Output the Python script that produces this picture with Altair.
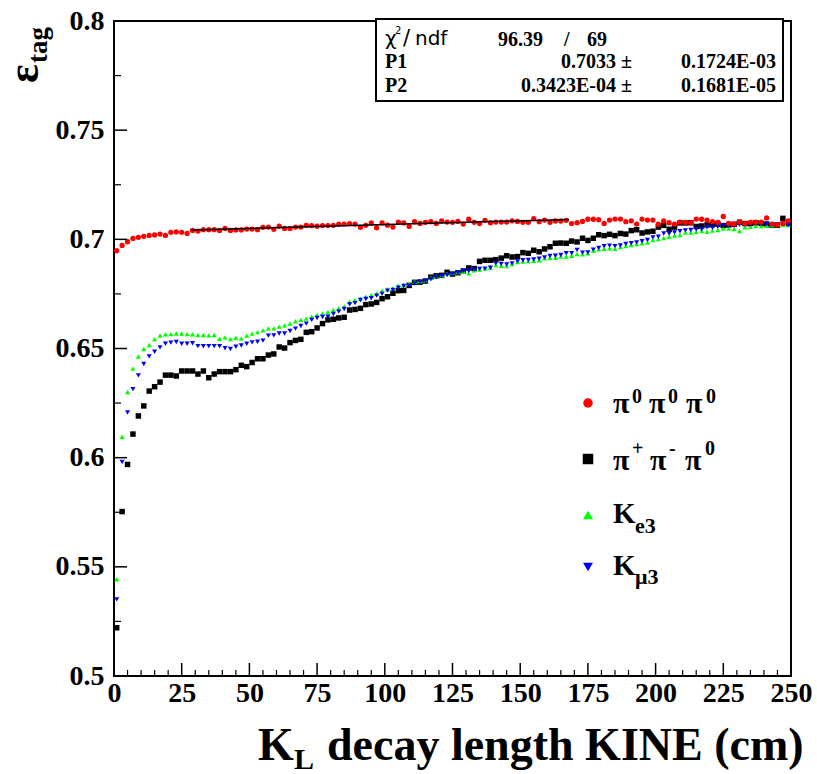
import altair as alt
import pandas as pd

# ---- data (2 cm bins, centres 1..249 cm) ----
x_centers = list(range(1, 250, 2))

red_a = [0.6948, 0.6972, 0.6989, 0.7004, 0.7009, 0.7014, 0.7018, 0.7020, 0.7024, 0.7018,
         0.7032, 0.7034, 0.7032, 0.7027, 0.7041, 0.7038, 0.7044, 0.7044, 0.7044, 0.7041,
         0.7050, 0.7041, 0.7043, 0.7043, 0.7047, 0.7047, 0.7044, 0.7055, 0.7056, 0.7046,
         0.7060, 0.7050, 0.7050, 0.7056, 0.7056, 0.7064, 0.7063, 0.7060, 0.7063, 0.7063,
         0.7064, 0.7069]
red_b = [0.7070, 0.7072, 0.7070, 0.7055, 0.7064, 0.7075, 0.7053, 0.7075, 0.7065, 0.7056,
         0.7079, 0.7075, 0.7059, 0.7081, 0.7073, 0.7078, 0.7081, 0.7073, 0.7084, 0.7079,
         0.7078, 0.7082, 0.7070, 0.7092, 0.7078, 0.7072, 0.7087, 0.7076, 0.7079, 0.7079,
         0.7079, 0.7085, 0.7082, 0.7078, 0.7078, 0.7095, 0.7081, 0.7088, 0.7078, 0.7084,
         0.7084, 0.7087, 0.7072, 0.7076, 0.7082, 0.7092, 0.7092, 0.7090, 0.7073, 0.7088,
         0.7093, 0.7093, 0.7081, 0.7085, 0.7070, 0.7093, 0.7088, 0.7088, 0.7069, 0.7084,
         0.7076, 0.7070, 0.7079, 0.7078, 0.7076, 0.7093, 0.7092, 0.7088, 0.7081, 0.7078,
         0.7105, 0.7073, 0.7070, 0.7079, 0.7073, 0.7078, 0.7079, 0.7079, 0.7098, 0.7070,
         0.7067, 0.7073, 0.7085]

black_a = [0.5221, 0.5753, 0.5969, 0.6108, 0.6191, 0.6237,
           0.6305, 0.6325, 0.6346, 0.6378, 0.6378, 0.6374, 0.6397, 0.6397, 0.6397, 0.6383,
           0.6397, 0.6366, 0.6383, 0.6394, 0.6394, 0.6394, 0.6403, 0.6423, 0.6417, 0.6436,
           0.6453, 0.6453, 0.6470, 0.6475, 0.6507, 0.6502, 0.6527, 0.6537, 0.6542, 0.6574,
           0.6577, 0.6594, 0.6614, 0.6631, 0.6634, 0.6640]
black_b = [0.6643, 0.6676, 0.6679, 0.6684, 0.6701, 0.6704, 0.6711, 0.6728, 0.6737, 0.6753,
           0.6765, 0.6766, 0.6789, 0.6803, 0.6804, 0.6809, 0.6827, 0.6833, 0.6835, 0.6849,
           0.6841, 0.6847, 0.6855, 0.6869, 0.6866, 0.6899, 0.6904, 0.6904, 0.6907, 0.6914,
           0.6925, 0.6919, 0.6921, 0.6939, 0.6936, 0.6950, 0.6943, 0.6956, 0.6966, 0.6982,
           0.6983, 0.6982, 0.6992, 0.6988, 0.7005, 0.6995, 0.7005, 0.7021, 0.7017, 0.7023,
           0.7017, 0.7027, 0.7024, 0.7040, 0.7044, 0.7029, 0.7034, 0.7037, 0.7056, 0.7064,
           0.7046, 0.7056, 0.7075, 0.7075, 0.7076, 0.7059, 0.7061, 0.7066, 0.7067, 0.7070,
           0.7063, 0.7066, 0.7069, 0.7078, 0.7072, 0.7072, 0.7076, 0.7073, 0.7070, 0.7064,
           0.7064, 0.7096, 0.7073]

green_a = [0.5443, 0.6096,
           0.6301, 0.6408, 0.6463, 0.6498, 0.6516, 0.6542, 0.6559, 0.6565, 0.6566, 0.6569,
           0.6569, 0.6566, 0.6565, 0.6562, 0.6562, 0.6560, 0.6562, 0.6545, 0.6551, 0.6543,
           0.6549, 0.6546, 0.6559, 0.6568, 0.6575, 0.6583, 0.6592, 0.6592, 0.6600, 0.6606,
           0.6614, 0.6625, 0.6631, 0.6637, 0.6646, 0.6654, 0.6660, 0.6667, 0.6676, 0.6684]
green_b = [0.6692, 0.6714, 0.6722, 0.6728, 0.6737, 0.6745, 0.6751, 0.6765, 0.6771, 0.6775,
           0.6788, 0.6791, 0.6798, 0.6806, 0.6809, 0.6812, 0.6824, 0.6832, 0.6835, 0.6843,
           0.6847, 0.6850, 0.6852, 0.6844, 0.6858, 0.6862, 0.6866, 0.6870, 0.6882, 0.6879,
           0.6878, 0.6887, 0.6896, 0.6898, 0.6901, 0.6902, 0.6904, 0.6913, 0.6916, 0.6916,
           0.6921, 0.6921, 0.6925, 0.6933, 0.6931, 0.6936, 0.6948, 0.6954, 0.6957, 0.6959,
           0.6957, 0.6965, 0.6969, 0.6974, 0.6979, 0.6982, 0.6985, 0.6997, 0.7001, 0.7006,
           0.7012, 0.7017, 0.7020, 0.7031, 0.7031, 0.7035, 0.7038, 0.7035, 0.7040, 0.7043,
           0.7049, 0.7050, 0.7047, 0.7038, 0.7055, 0.7058, 0.7061, 0.7061, 0.7062, 0.7064,
           0.7065, 0.7067, 0.7065]

blue_a = [0.5351, 0.5980,
          0.6207, 0.6314, 0.6377, 0.6429, 0.6464, 0.6485, 0.6505, 0.6522, 0.6527, 0.6530,
          0.6522, 0.6522, 0.6524, 0.6511, 0.6510, 0.6511, 0.6511, 0.6510, 0.6501, 0.6498,
          0.6508, 0.6514, 0.6522, 0.6528, 0.6531, 0.6536, 0.6559, 0.6560, 0.6569, 0.6569,
          0.6580, 0.6591, 0.6603, 0.6614, 0.6631, 0.6640, 0.6644, 0.6646, 0.6658, 0.6669]
blue_b = [0.6681, 0.6702, 0.6708, 0.6722, 0.6727, 0.6730, 0.6742, 0.6750, 0.6765, 0.6768,
          0.6779, 0.6786, 0.6788, 0.6798, 0.6806, 0.6809, 0.6817, 0.6826, 0.6832, 0.6837,
          0.6841, 0.6847, 0.6855, 0.6855, 0.6862, 0.6864, 0.6866, 0.6870, 0.6890, 0.6887,
          0.6885, 0.6890, 0.6899, 0.6904, 0.6905, 0.6908, 0.6911, 0.6917, 0.6924, 0.6925,
          0.6928, 0.6936, 0.6936, 0.6951, 0.6939, 0.6940, 0.6953, 0.6960, 0.6969, 0.6971,
          0.6969, 0.6972, 0.6979, 0.6982, 0.6986, 0.6991, 0.6997, 0.7009, 0.7012, 0.7027,
          0.7027, 0.7032, 0.7037, 0.7041, 0.7043, 0.7046, 0.7046, 0.7055, 0.7053, 0.7058,
          0.7064, 0.7062, 0.7061, 0.7067, 0.7067, 0.7069, 0.7070, 0.7069, 0.7070, 0.7067,
          0.7069, 0.7070, 0.7065]

fit_x = [28.7, 168.0]
fit_y = [0.7043, 0.7091]

x_major = [0, 25, 50, 75, 100, 125, 150, 175, 200, 225, 250]
x_minor = [5, 10, 15, 20, 30, 35, 40, 45, 55, 60, 65, 70, 80, 85, 90, 95, 105, 110, 115, 120,
           130, 135, 140, 145, 155, 160, 165, 170, 180, 185, 190, 195, 205, 210, 215, 220,
           230, 235, 240, 245]
y_major = [0.5, 0.55, 0.6, 0.65, 0.7, 0.75, 0.8]
y_minor = [0.525, 0.575, 0.625, 0.675, 0.725, 0.775]

W, H = 677, 655
SERIF = "Liberation Serif"
SANS = "DejaVu Sans"

xscale = alt.Scale(domain=[0, 250], nice=False, zero=False)
yscale = alt.Scale(domain=[0.5, 0.8], nice=False, zero=False)
xaxis = alt.Axis(values=x_major, title=None, domain=False, ticks=False, tickSize=0, grid=False,
                 labelFont=SERIF, labelFontWeight="bold", labelFontSize=28, labelColor="black",
                 labelPadding=3, labelFlush=False, labelOverlap=False, format="d")
yaxis = alt.Axis(values=y_major, title=None, domain=False, ticks=False, tickSize=0, grid=False,
                 labelFont=SERIF, labelFontWeight="bold", labelFontSize=28, labelColor="black",
                 labelPadding=10, labelFlush=False, labelOverlap=False, format=".2~f")


def X(field="x"):
    return alt.X(f"{field}:Q", scale=xscale, axis=xaxis)


def Y(field="y"):
    return alt.Y(f"{field}:Q", scale=yscale, axis=yaxis)


def points(vals, shape, color, size):
    df = pd.DataFrame({"x": x_centers, "y": vals})
    return alt.Chart(df).mark_point(shape=shape, filled=True, color=color, size=size,
                                    opacity=1, strokeWidth=0).encode(x=X(), y=Y())


layers = []
layers.append(points(black_a + black_b, "square", "#000000", 30))
layers.append(points(green_a + green_b, "triangle-up", "#00ff00", 26))
layers.append(points(blue_a + blue_b, "triangle-down", "#0000ff", 26))
layers.append(points(red_a + red_b, "circle", "#ff0000", 28))

fit_df = pd.DataFrame({"x": fit_x, "y": fit_y})
layers.append(alt.Chart(fit_df).mark_line(color="black", strokeWidth=1.5).encode(x=X(), y=Y()))

# inward ticks
layers.append(alt.Chart(pd.DataFrame({"x": x_major})).mark_rule(color="black", strokeWidth=1.5)
              .encode(x=X(), y=alt.value(H), y2=alt.value(H - 13)))
layers.append(alt.Chart(pd.DataFrame({"x": x_minor})).mark_rule(color="black", strokeWidth=1.2)
              .encode(x=X(), y=alt.value(H), y2=alt.value(H - 6)))
layers.append(alt.Chart(pd.DataFrame({"y": y_major})).mark_rule(color="black", strokeWidth=1.5)
              .encode(y=Y(), x=alt.value(0), x2=alt.value(13)))
layers.append(alt.Chart(pd.DataFrame({"y": y_minor})).mark_rule(color="black", strokeWidth=1.2)
              .encode(y=Y(), x=alt.value(0), x2=alt.value(7)))

one = pd.DataFrame({"a": [0]})


def txt(s, x, y, size, font=SERIF, weight="bold", align="left", angle=0):
    return alt.Chart(one).mark_text(text=s, font=font, fontSize=size, fontWeight=weight,
                                    align=align, baseline="alphabetic", color="black",
                                    angle=angle).encode(x=alt.value(x), y=alt.value(y))


# stats box
layers.append(alt.Chart(one).mark_rect(fill="white", stroke="black", strokeWidth=2)
              .encode(x=alt.value(262), x2=alt.value(669), y=alt.value(-2), y2=alt.value(80)))
layers.append(txt("χ", 271, 24, 20, font=SANS, weight="normal"))
layers.append(txt("2", 281, 13, 10, font=SANS, weight="normal"))
layers.append(txt("/", 289, 24, 21, font=SANS, weight="normal"))
layers.append(txt("ndf", 301, 24, 20, font=SANS, weight="normal"))
layers.append(txt("96.39", 384, 25, 20))
layers.append(txt("/", 450, 25, 20))
layers.append(txt("69", 473, 25, 20))
layers.append(txt("P1", 271, 47, 20))
layers.append(txt("0.7033 ±", 518, 47, 20, align="right"))
layers.append(txt("0.1724E-03", 662, 47, 20, align="right"))
layers.append(txt("P2", 271, 71, 20))
layers.append(txt("0.3423E-04 ±", 518, 71, 20, align="right"))
layers.append(txt("0.1681E-05", 662, 71, 20, align="right"))

# legend
leg = [("circle", "#ff0000", 382, 90), ("square", "#000000", 438, 110),
       ("triangle-up", "#00ff00", 494, 100), ("triangle-down", "#0000ff", 546, 100)]
for shape, color, yy, sz in leg:
    layers.append(alt.Chart(one).mark_point(shape=shape, filled=True, color=color, size=sz,
                                            opacity=1, strokeWidth=0)
                  .encode(x=alt.value(474), y=alt.value(yy)))
for xx in (499, 535, 572):
    layers.append(txt("π", xx, 392, 30))
for xx in (518, 554, 592):
    layers.append(txt("0", xx, 382, 20))
layers.append(txt("π", 499, 449, 30))
layers.append(txt("+", 518, 434, 20))
layers.append(txt("π", 536, 449, 30))
layers.append(txt("-", 555, 434, 20))
layers.append(txt("π", 571, 449, 30))
layers.append(txt("0", 591, 434, 20))
layers.append(txt("K", 499, 502, 29))
layers.append(txt("e3", 521, 512, 22))
layers.append(txt("K", 499, 554, 29))
layers.append(txt("μ3", 521, 563, 22))

# axis titles
layers.append(txt("K", 144, 739, 46))
layers.append(txt("L", 180, 748, 30))
layers.append(txt("decay length KINE (cm)", 213, 739, 46))
layers.append(txt("ε", -76, 62, 44, angle=270))
layers.append(txt("tag", -67, 42, 27, angle=270))

chart = alt.layer(*layers).properties(
    width=W, height=H,
    autosize=alt.AutoSizeParams(type="none"),
    padding={"left": 114, "top": 21, "right": 26, "bottom": 98},
    background="white",
).configure_view(stroke="black", strokeWidth=2)

chart.save("out.html", embed_options={"renderer": "svg", "actions": False})
